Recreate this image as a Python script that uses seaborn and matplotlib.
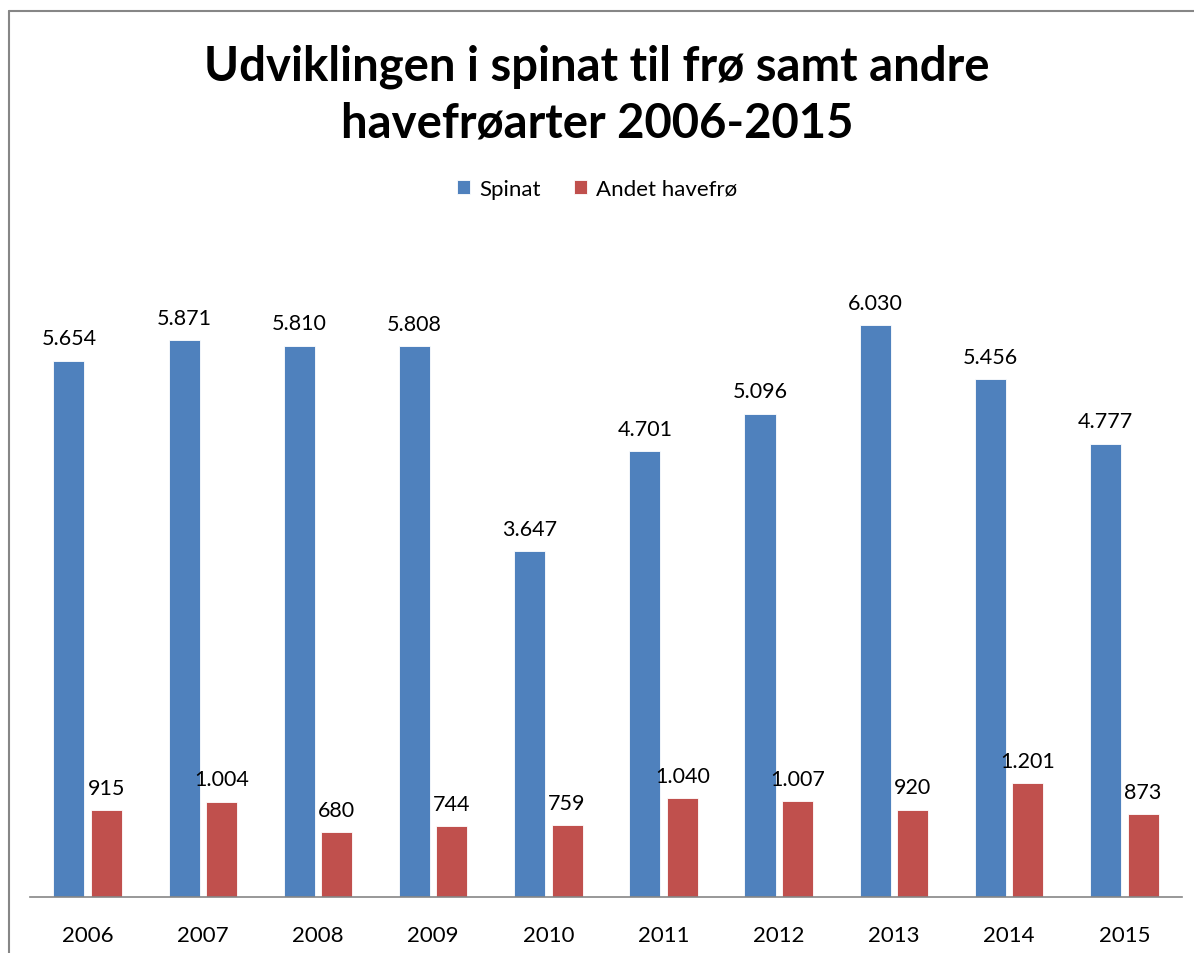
import pandas as pd
import matplotlib.pyplot as plt
import seaborn as sns
from matplotlib.lines import Line2D

# Values (tonnes)
years = ["2006", "2007", "2008", "2009", "2010", "2011", "2012", "2013", "2014", "2015"]
spinat = [5654, 5871, 5810, 5808, 3647, 4701, 5096, 6030, 5456, 4777]
andet = [915, 1004, 680, 744, 759, 1040, 1007, 920, 1201, 873]
series_names = ["Spinat", "Andet havefrø"]
colors = ["#4F81BD", "#C0504D"]

df = pd.DataFrame({
    "År": years * 2,
    "Mængde": spinat + andet,
    "Serie": [series_names[0]] * len(years) + [series_names[1]] * len(years),
})

sns.set_style("white")
plt.rcParams["font.family"] = ["Lato", "DejaVu Sans"]
plt.rcParams["text.color"] = "black"
plt.rcParams["xtick.color"] = "black"

fig = plt.figure(figsize=(11.94, 9.54), dpi=100)
ax = fig.add_axes([0.0251, 0.0587, 0.9648, 0.696])

sns.barplot(
    data=df, x="År", y="Mængde", hue="Serie",
    palette=colors, saturation=1, width=0.65, gap=0.17,
    edgecolor="white", linewidth=0.6, ax=ax,
)

# Danish style labels: 5.654
for container in ax.containers:
    labels = [f"{int(v):,}".replace(",", ".") for v in container.datavalues]
    ax.bar_label(container, labels=labels, padding=9, fontsize=15.5, color="black")

ax.set_ylim(0, 7000)
ax.set_xlim(-0.5, len(years) - 0.5)
ax.set_xlabel("")
ax.set_ylabel("")
ax.set_yticks([])
ax.tick_params(axis="x", length=0, pad=20, labelsize=16)
for side in ["left", "right", "top"]:
    ax.spines[side].set_visible(False)
ax.spines["bottom"].set_color("#868686")
ax.spines["bottom"].set_linewidth(1.2)

handles, labels = ax.get_legend_handles_labels()
ax.legend(
    handles, labels, loc="center", bbox_to_anchor=(0.5, 1 - 190 / 954),
    bbox_transform=fig.transFigure, ncol=2, frameon=False, fontsize=16,
    handlelength=0.6, handleheight=0.6, handletextpad=0.4, columnspacing=1.5,
)

fig.text(0.5, 1 - 95 / 954, "Udviklingen i spinat til frø samt andre\nhavefrøarter 2006-2015",
         ha="center", va="center", fontsize=34, fontweight="bold", linespacing=1.35,
         color="black")

# chart area border (only left and top visible in the crop)
fig.add_artist(Line2D([8.5 / 1194, 8.5 / 1194], [0, 1 - 12 / 954], color="#868686", lw=1.5,
                      transform=fig.transFigure))
fig.add_artist(Line2D([8.5 / 1194, 1], [1 - 12 / 954, 1 - 12 / 954], color="#868686", lw=1.5,
                      transform=fig.transFigure))

plt.savefig("out.png", dpi=100)
